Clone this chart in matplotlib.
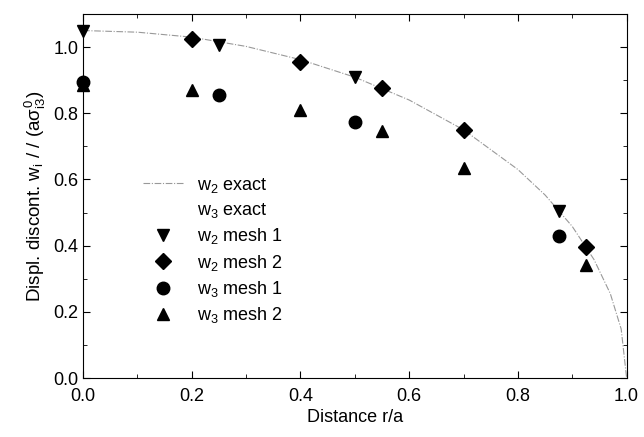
import numpy as np
import matplotlib.pyplot as plt
from matplotlib.ticker import MultipleLocator

# curva exata
r_exact = [0.0, 0.1, 0.2, 0.3, 0.4, 0.5, 0.6, 0.7, 0.8, 0.85, 0.9, 0.94, 0.97, 0.99, 1.0]
w2_exact = [1.05, 1.045, 1.03, 1.002, 0.962, 0.909, 0.840, 0.750, 0.630, 0.553, 0.458, 0.358, 0.255, 0.148, 0.0]

r_w2m1 = [0.0, 0.25, 0.5, 0.875]
w2m1 = [1.05, 1.005, 0.91, 0.505]
r_w2m2 = [0.2, 0.4, 0.55, 0.7, 0.925]
w2m2 = [1.025, 0.955, 0.875, 0.75, 0.395]
r_w3m1 = [0.0, 0.25, 0.5, 0.875]
w3m1 = [0.895, 0.855, 0.775, 0.43]
r_w3m2 = [0.0, 0.2, 0.4, 0.55, 0.7, 0.925]
w3m2 = [0.885, 0.87, 0.81, 0.745, 0.635, 0.34]

plt.rcParams['font.family'] = ['Liberation Sans', 'DejaVu Sans']
plt.rcParams['mathtext.fontset'] = 'custom'
plt.rcParams['mathtext.rm'] = 'Liberation Sans'
plt.rcParams['mathtext.it'] = 'Liberation Sans'

fig, ax = plt.subplots(figsize=(6.44, 4.37), dpi=100)
fig.subplots_adjust(left=0.129, right=0.973, top=0.968, bottom=0.135)

ax.plot(r_exact, w2_exact, color='#999999', lw=0.8, ls=(0, (6, 1.5, 1, 1.5)), label=r'w$_2$ exact')
ax.plot([], [], color='white', lw=0.8, label=r'w$_3$ exact')
ax.plot(r_w2m1, w2m1, 'kv', ms=9, ls='none', label=r'w$_2$ mesh 1', clip_on=False, zorder=5)
ax.plot(r_w2m2, w2m2, 'kD', ms=8, ls='none', label=r'w$_2$ mesh 2', clip_on=False, zorder=5)
ax.plot(r_w3m1, w3m1, 'ko', ms=9, ls='none', label=r'w$_3$ mesh 1', clip_on=False, zorder=5)
ax.plot(r_w3m2, w3m2, 'k^', ms=9, ls='none', label=r'w$_3$ mesh 2', clip_on=False, zorder=5)

ax.set_xlim(0, 1.0)
ax.set_ylim(0, 1.1)
ax.xaxis.set_major_locator(MultipleLocator(0.2))
ax.xaxis.set_minor_locator(MultipleLocator(0.1))
ax.yaxis.set_major_locator(MultipleLocator(0.2))
ax.yaxis.set_minor_locator(MultipleLocator(0.1))
ax.tick_params(which='both', direction='in', top=True, right=True, labelsize=13)
ax.tick_params(which='major', length=5)
ax.tick_params(which='minor', length=3)
ax.tick_params(axis='x', pad=7)

ax.set_xlabel('Distance r/a', fontsize=13, labelpad=3)
ax.set_ylabel(r'Displ. discont. w$_i$ / / (a$\sigma^0_{i3}$)', fontsize=13.5)

ax.legend(loc='lower left', bbox_to_anchor=(0.08, 0.1), frameon=False, fontsize=13,
          handlelength=2.2, labelspacing=0.35, handletextpad=0.8)

plt.savefig('out.png')
